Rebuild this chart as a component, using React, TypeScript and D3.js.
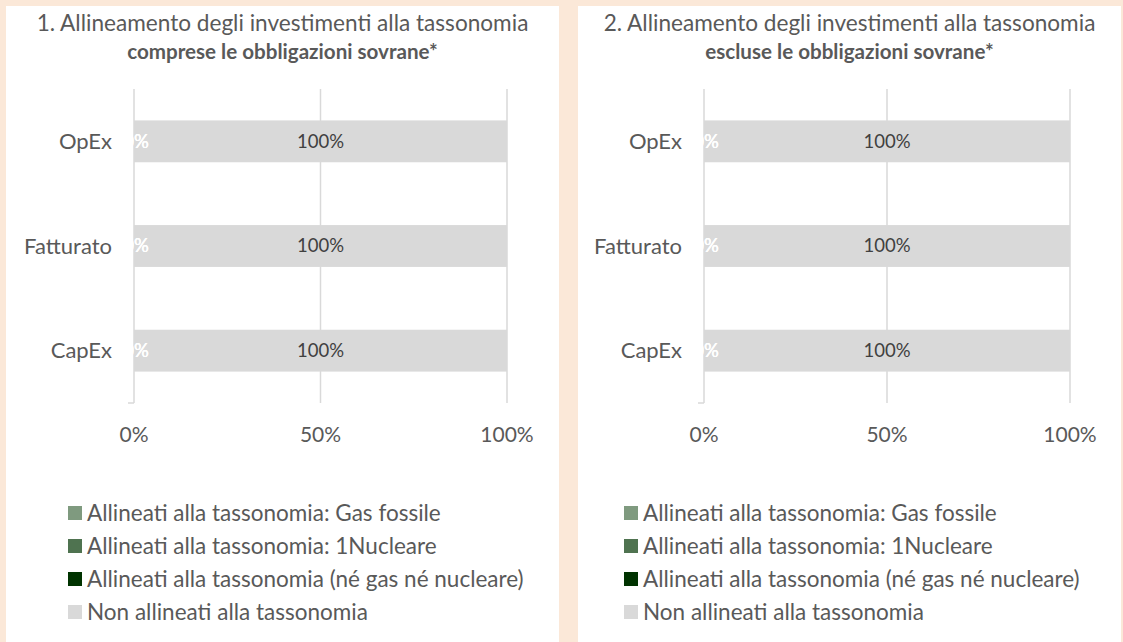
import React from "react";
import * as d3 from "d3";

const categories = ["OpEx", "Fatturato", "CapEx"];
const seriesNames = [
  "Allineati alla tassonomia: Gas fossile",
  "Allineati alla tassonomia: 1Nucleare",
  "Allineati alla tassonomia (né gas né nucleare)",
  "Non allineati alla tassonomia",
];
const seriesColors = ["#7F9A7F", "#4F7350", "#003300", "#D9D9D9"];
const labelColors = ["#FFFFFF", "#FFFFFF", "#FFFFFF", "#404040"];
// chart 1: comprese le obbligazioni sovrane
const chart1Gas = [0, 0, 0];
const chart1Nuc = [0, 0, 0];
const chart1Aligned = [0, 0, 0];
const chart1Non = [100, 100, 100];
// chart 2: escluse le obbligazioni sovrane
const chart2Gas = [0, 0, 0];
const chart2Nuc = [0, 0, 0];
const chart2Aligned = [0, 0, 0];
const chart2Non = [100, 100, 100];
const xTicks = [0, 50, 100];
const titleLine1 = [
  "1. Allineamento degli investimenti alla tassonomia",
  "2. Allineamento degli investimenti alla tassonomia",
];
const titleLine2 = ["comprese le obbligazioni sovrane*", "escluse le obbligazioni sovrane*"];

const FONT = "Lato, 'Open Sans', sans-serif";
const TXT = "#595959";

type PanelProps = {
  idx: number;
  px0: number;
  px1: number;
  x0: number;
  x1: number;
  legendX: number;
  series: number[][];
};

function Panel({ idx, px0, px1, x0, x1, legendX, series }: PanelProps) {
  const top = 89;
  const bottom = 403;
  const x = d3.scaleLinear().domain([0, 100]).range([x0, x1]);
  const y = d3.scaleBand<string>().domain(categories).range([top, bottom]).paddingInner(0.6).paddingOuter(0.3);
  const cx = (px0 + px1) / 2;
  const stacked = categories.map((c, ci) => {
    let acc = 0;
    return series.map((s, si) => {
      const start = acc;
      acc += s[ci];
      return { c, si, start, end: acc, v: s[ci] };
    });
  });
  return (
    <g>
      <rect x={px0} y={6} width={px1 - px0} height={642 - 6} fill="#FFFFFF" />
      <text x={cx} y={31} textAnchor="middle" fontFamily={FONT} fontSize={22.6} fill={TXT}>
        {titleLine1[idx]}
      </text>
      <text x={cx} y={59} textAnchor="middle" fontFamily={FONT} fontSize={20.6} fontWeight="bold" fill={TXT}>
        {titleLine2[idx]}
      </text>
      {xTicks.map((t) => (
        <line key={t} x1={x(t)} x2={x(t)} y1={top} y2={bottom} stroke="#D9D9D9" strokeWidth={1.5} />
      ))}
      <line x1={x0 - 6} x2={x0} y1={bottom} y2={bottom} stroke="#D9D9D9" strokeWidth={1.5} />
      {stacked.map((row) =>
        row.map((d) =>
          d.v > 0 ? (
            <rect
              key={d.c + d.si}
              x={x(d.start)}
              y={y(d.c)!}
              width={x(d.end) - x(d.start)}
              height={y.bandwidth()}
              fill={seriesColors[d.si]}
            />
          ) : null
        )
      )}
      {stacked.map((row) =>
        row.map((d) => (
          <text
            key={"l" + d.c + d.si}
            x={(x(d.start) + x(d.end)) / 2 + (d.v === 0 ? 2 : 0)}
            y={y(d.c)! + y.bandwidth() / 2}
            dy="0.35em"
            textAnchor="middle"
            fontFamily={FONT}
            fontSize={18.5}
            fill={labelColors[d.si]}
          >
            {d.v + "%"}
          </text>
        ))
      )}
      {categories.map((c) => (
        <text
          key={"c" + c}
          x={x0 - 22}
          y={y(c)! + y.bandwidth() / 2}
          dy="0.35em"
          textAnchor="end"
          fontFamily={FONT}
          fontSize={22}
          fill={TXT}
        >
          {c}
        </text>
      ))}
      {xTicks.map((t) => (
        <text
          key={"t" + t}
          x={x(t)}
          y={435}
          dy="0.35em"
          textAnchor="middle"
          fontFamily={FONT}
          fontSize={21}
          fill={TXT}
        >
          {t + "%"}
        </text>
      ))}
      {seriesNames.map((n, i) => (
        <g key={n}>
          <rect x={legendX} y={513 + i * 33 - 7} width={14} height={14} fill={seriesColors[i]} />
          <text x={legendX + 19} y={513 + i * 33} dy="0.35em" fontFamily={FONT} fontSize={22.5} fill={TXT}>
            {n}
          </text>
        </g>
      ))}
    </g>
  );
}

export default function App() {
  return (
    <svg
      width={1123}
      height={642}
      style={{ position: "absolute", left: 0, top: 0 }}
      xmlns="http://www.w3.org/2000/svg"
    >
      <rect x={0} y={0} width={1123} height={642} fill="#FBE8D8" />
      <Panel
        idx={0}
        px0={6}
        px1={559}
        x0={134}
        x1={507}
        legendX={68}
        series={[chart1Gas, chart1Nuc, chart1Aligned, chart1Non]}
      />
      <Panel
        idx={1}
        px0={578}
        px1={1121}
        x0={704}
        x1={1070}
        legendX={624}
        series={[chart2Gas, chart2Nuc, chart2Aligned, chart2Non]}
      />
    </svg>
  );
}
